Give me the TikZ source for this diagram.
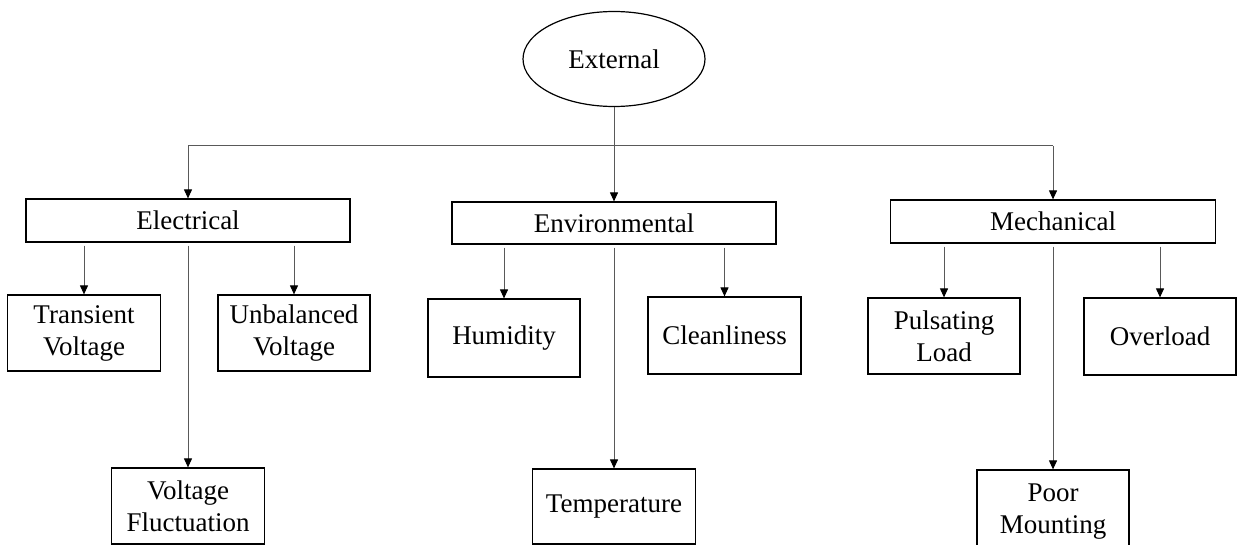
\documentclass[tikz,border=0pt]{standalone}
\usepackage{fontspec}
\setmainfont{Liberation Serif}
\usetikzlibrary{shapes.geometric,arrows.meta}
\begin{document}
\begin{tikzpicture}[x=1pt,y=-1pt,
  box/.style={draw=black,line width=1.2pt,rectangle,inner sep=0pt,align=center,font=\fontsize{27}{32}\selectfont},
  conn/.style={draw=black!65,line width=1pt},
  arr/.style={conn,-{Triangle[length=9pt,width=8pt,color=black]}}]
\useasboundingbox (0,0) rectangle (1238,545);
\fill[white] (0,0) rectangle (1238,545);
\node[box,ellipse,minimum width=182pt,minimum height=95pt] (ext) at (614,59) {External};
\node[box,minimum width=324pt,minimum height=43pt] (elec) at (188,220.5) {Electrical};
\node[box,minimum width=324pt,minimum height=42pt] (env) at (614,223) {Environmental};
\node[box,minimum width=325pt,minimum height=43pt] (mech) at (1053,221.5) {Mechanical};
\node[box,minimum width=153pt,minimum height=76pt] (trans) at (84,333) {Transient\\Voltage};
\node[box,minimum width=152pt,minimum height=76pt] (unbal) at (294,333) {Unbalanced\\Voltage};
\node[box,minimum width=153pt,minimum height=76pt] (fluct) at (188,506) {Voltage\\Fluctuation};
\node[box,minimum width=152pt,minimum height=78pt] (humid) at (504,338) {Humidity};
\node[box,minimum width=153pt,minimum height=77pt] (clean) at (724.5,335.5) {Cleanliness};
\node[box,minimum width=163pt,minimum height=75pt] (temp) at (614,506.5) {Temperature};
\node[box,minimum width=152pt,minimum height=76pt] (puls) at (944,336) {Pulsating\\Load};
\node[box,minimum width=152pt,minimum height=77pt] (over) at (1160,336.5) {Overload};
\node[box,minimum width=152pt,minimum height=84pt] (poor) at (1053,512) {Poor\\Mounting};
\coordinate (bl) at (188,146);
\coordinate (br) at (1053,146);
\draw[conn] (bl) -- (br);
\draw[arr] (ext.south) -- (env.north);
\draw[arr] (bl) -- (elec.north);
\draw[arr] (br) -- (mech.north);
\draw[arr] ([yshift=-3pt]elec.south -| trans.north) -- (trans.north);
\draw[arr] ([yshift=-3pt]elec.south -| unbal.north) -- (unbal.north);
\draw[arr] ([yshift=-3pt]elec.south) -- (fluct.north);
\draw[arr] ([yshift=-3pt]env.south -| humid.north) -- (humid.north);
\draw[arr] ([yshift=-3pt]env.south -| clean.north) -- (clean.north);
\draw[arr] ([yshift=-3pt]env.south) -- (temp.north);
\draw[arr] ([yshift=-3pt]mech.south -| puls.north) -- (puls.north);
\draw[arr] ([yshift=-3pt]mech.south -| over.north) -- (over.north);
\draw[arr] ([yshift=-3pt]mech.south) -- (poor.north);
\end{tikzpicture}
\end{document}
